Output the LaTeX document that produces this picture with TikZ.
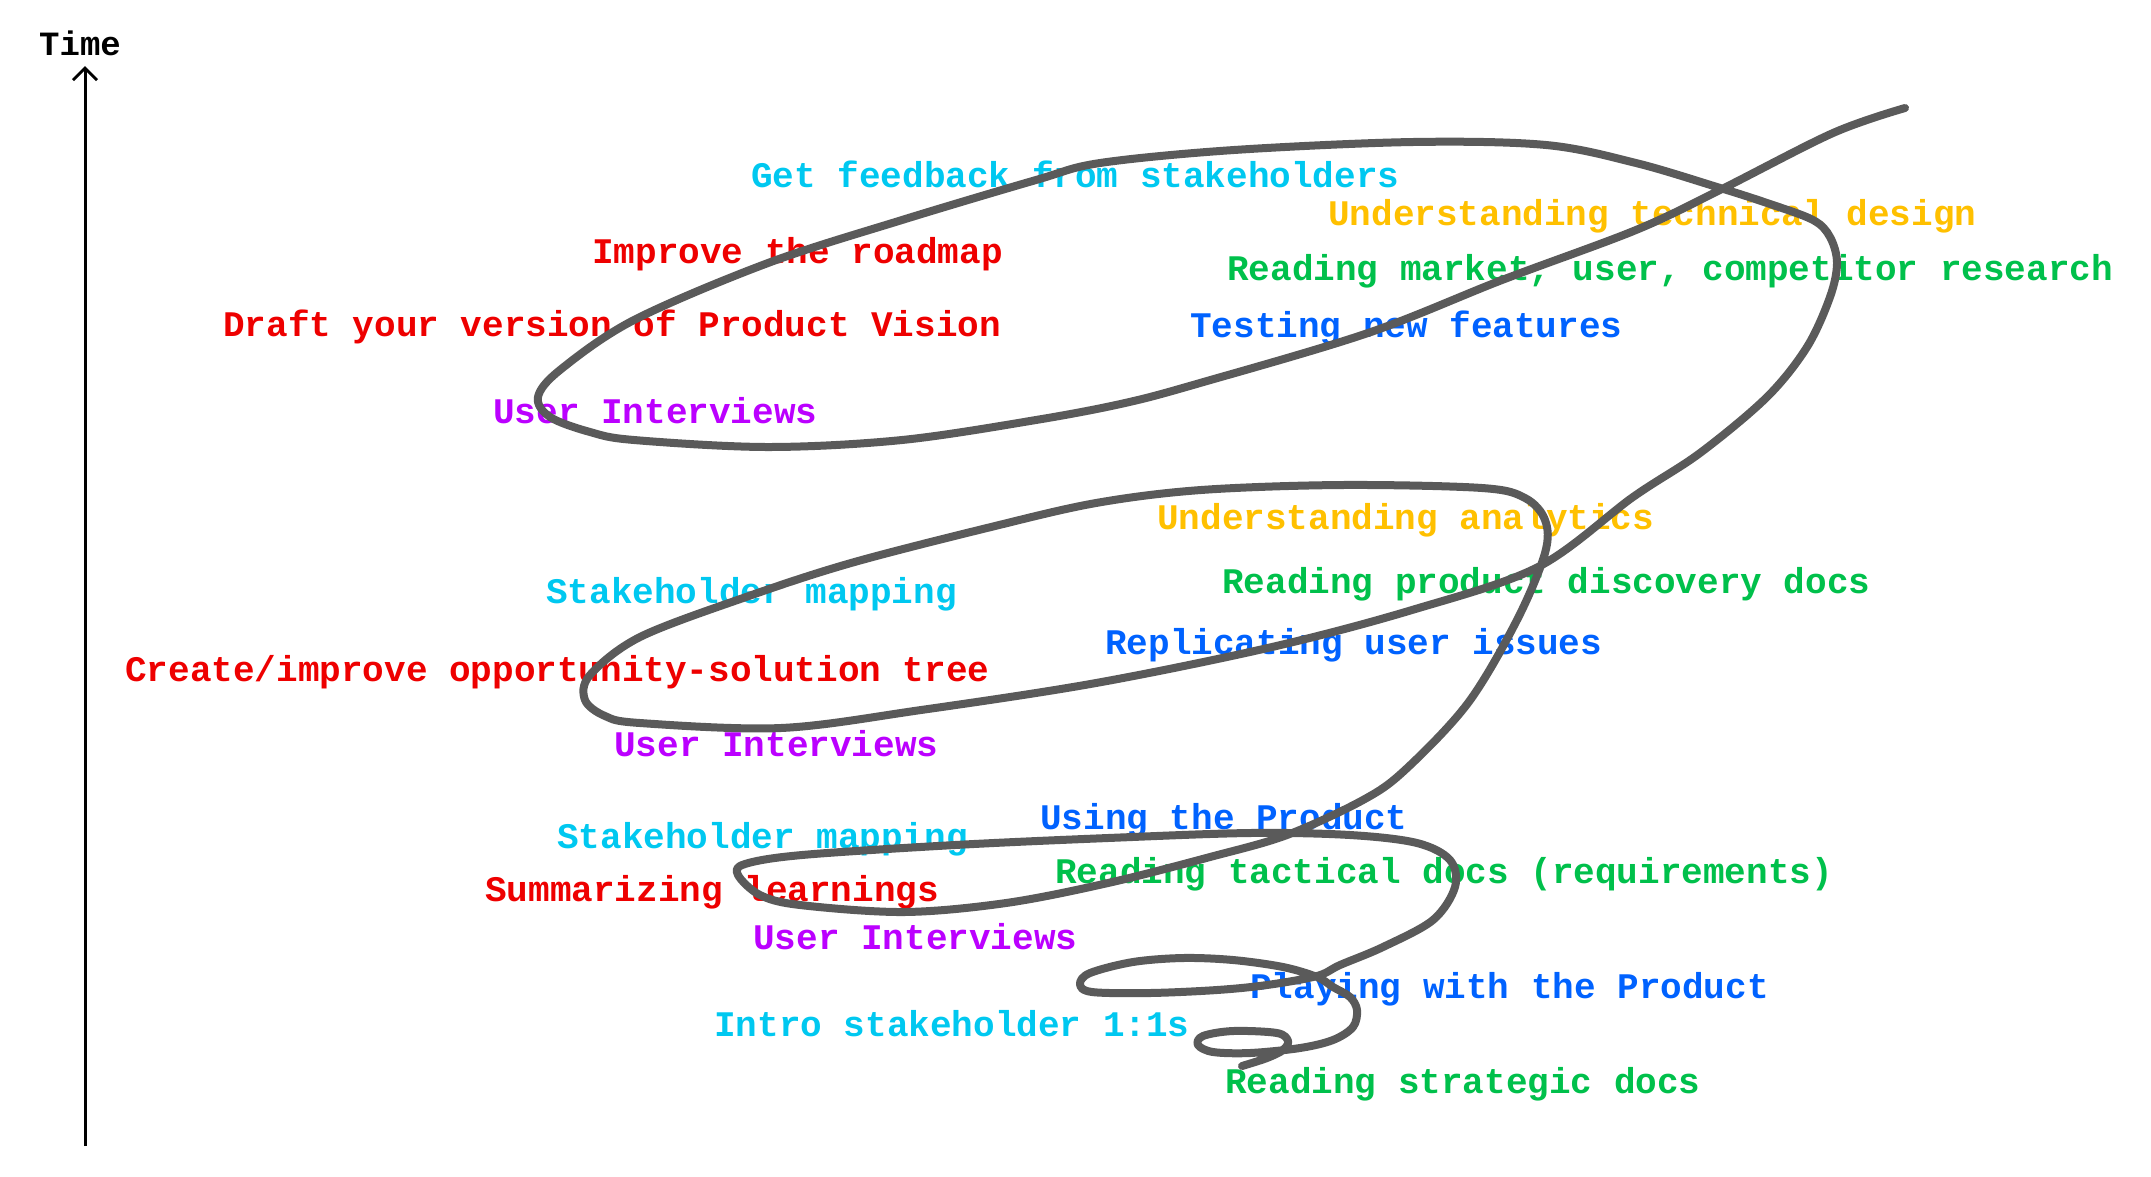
\documentclass[tikz,border=0pt]{standalone}
\usepackage{fontspec}
\setmainfont{Liberation Mono}
\usetikzlibrary{arrows.meta}
\definecolor{ccyan}{HTML}{00C8F0}
\definecolor{cyellow}{HTML}{FFC000}
\definecolor{cred}{HTML}{EE0000}
\definecolor{cgreen}{HTML}{00C04B}
\definecolor{cblue}{HTML}{0062FF}
\definecolor{cpurple}{HTML}{BB00FF}
\definecolor{spiralgray}{HTML}{5A5A5A}
\begin{document}
\begin{tikzpicture}[x=1pt,y=-1pt,
  lbl/.style={anchor=base west, inner sep=0pt, font=\fontsize{36}{40}\selectfont\bfseries},
  spiral/.style={line width=8pt, draw=spiralgray, line cap=round, line join=round},
  axis/.style={line width=3pt, draw=black, -{Straight Barb[length=12pt,width=24pt,line width=3pt]}}]
\useasboundingbox (0,0) rectangle (2151,1176);

% time axis
\node[anchor=base west, inner sep=0pt, font=\fontsize{34}{38}\selectfont\bfseries] (time) at (39,55) {Time};
\coordinate (axbot) at (85,1146);
\coordinate (axtop) at (85,66);
\draw[axis] (axbot) -- (axtop);

% labels
\node[lbl, text=ccyan]   (t1)  at (751,187)  {Get feedback from stakeholders};
\node[lbl, text=cyellow] (t2)  at (1328,225) {Understanding technical design};
\node[lbl, text=cred]    (t3)  at (592,263)  {Improve the roadmap};
\node[lbl, text=cgreen]  (t4)  at (1227,280) {Reading market, user, competitor research};
\node[lbl, text=cred]    (t5)  at (223,336)  {Draft your version of Product Vision};
\node[lbl, text=cblue]   (t6)  at (1190,337) {Testing new features};
\node[lbl, text=cpurple] (t7)  at (493,423)  {User Interviews};
\node[lbl, text=cyellow] (t8)  at (1157,529) {Understanding analytics};
\node[lbl, text=ccyan]   (t9)  at (546,603)  {Stakeholder mapping};
\node[lbl, text=cgreen]  (t10) at (1222,593) {Reading product discovery docs};
\node[lbl, text=cblue]   (t11) at (1105,654) {Replicating user issues};
\node[lbl, text=cred]    (t12) at (125,681)  {Create/improve opportunity-solution tree};
\node[lbl, text=cpurple] (t13) at (614,756)  {User Interviews};
\node[lbl, text=cblue]   (t14) at (1040,829) {Using the Product};
\node[lbl, text=ccyan]   (t15) at (557,848)  {Stakeholder mapping};
\node[lbl, text=cgreen]  (t16) at (1055,883) {Reading tactical docs (requirements)};
\node[lbl, text=cred]    (t17) at (485,901)  {Summarizing learnings};
\node[lbl, text=cpurple] (t18) at (753,949)  {User Interviews};
\node[lbl, text=cblue]   (t19) at (1250,998) {Playing with the Product};
\node[lbl, text=ccyan]   (t20) at (714,1036) {Intro stakeholder 1:1s};
\node[lbl, text=cgreen]  (t21) at (1225,1093) {Reading strategic docs};

% spiral
\draw[spiral] plot[smooth, tension=0.55] coordinates {
(1242,1066) (1267,1058) (1283,1050) (1288,1041) (1277,1033) (1233,1031) (1203,1036)
(1198,1045) (1213,1052) (1250,1053) (1300,1048) (1333,1040) (1353,1027) (1357,1010)
(1350,997) (1333,987) (1317,977) (1283,967) (1233,960) (1183,958) (1133,962) (1090,973)
(1080,984) (1092,992) (1150,993) (1217,990) (1267,985) (1317,976) (1340,965) (1383,947)
(1433,920) (1455,887) (1450,860) (1417,843) (1350,835) (1250,833) (1108,838) (955,845)
(802,855) (745,864) (738,875) (760,895) (800,905) (904,912) (1006,903) (1108,883)
(1210,857) (1287,835) (1363,800) (1405,770) (1468,703) (1517,620) (1545,553) (1545,520)
(1525,498) (1482,488) (1342,485) (1201,490) (1096,503) (991,527) (851,563) (746,597)
(640,637) (590,675) (585,700) (605,716) (640,723) (781,728) (921,710) (1096,683)
(1272,647) (1412,610) (1538,567) (1633,497) (1700,453) (1767,397) (1807,347) (1830,297)
(1837,263) (1830,237) (1813,220) (1767,203) (1717,187) (1636,163) (1546,145) (1413,142)
(1234,150) (1100,163) (1036,180) (902,220) (768,263) (634,320) (560,370) (538,397)
(550,417) (590,432) (634,440) (768,447) (902,440) (1036,420) (1125,403) (1200,383)
(1368,333) (1502,280) (1636,230) (1720,190) (1833,133) (1905,108)};
\end{tikzpicture}
\end{document}
